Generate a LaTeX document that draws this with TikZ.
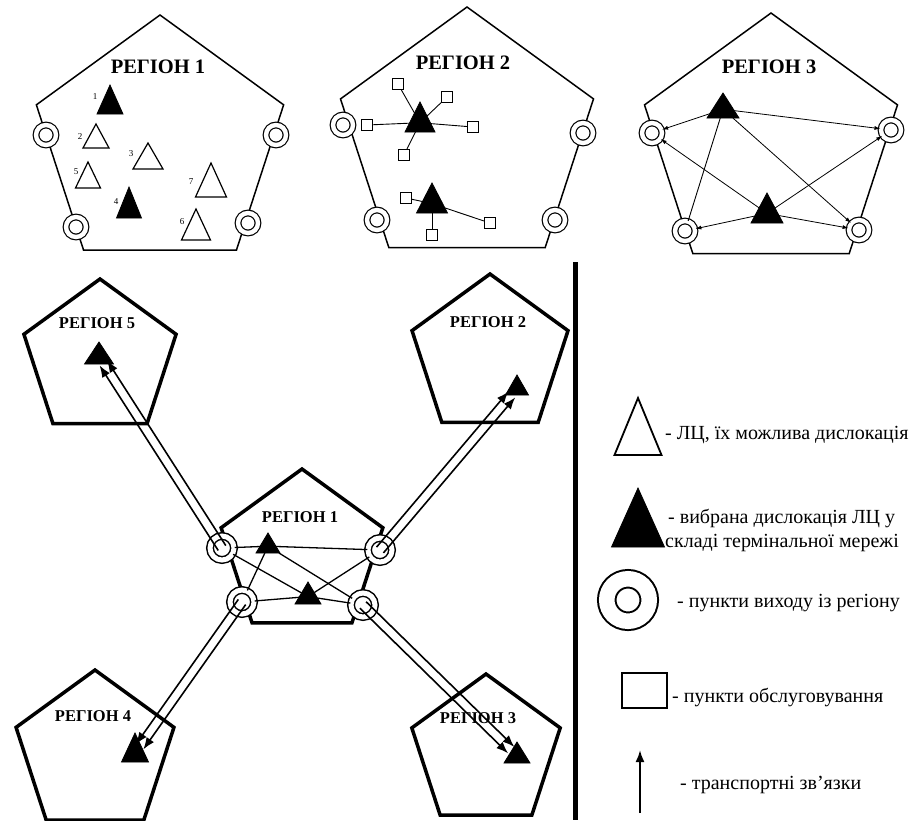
\documentclass[tikz,border=0pt]{standalone}
\usepackage{fontspec}
\setmainfont{Liberation Serif}
\usetikzlibrary{shapes.geometric}
\usetikzlibrary{positioning}
\usetikzlibrary{arrows.meta}
\usetikzlibrary{calc}

\tikzset{
  region/.style={regular polygon, regular polygon sides=5, draw, inner sep=0pt, minimum size=#1},
  topreg/.style={region=#1, line width=1.5pt},
  botreg/.style={region=#1, line width=3.5pt},
  reglabel/.style={font=\bfseries\fontsize{20.5}{22}\selectfont, inner sep=0pt},
  botlabel/.style={font=\bfseries\fontsize{16.5}{18}\selectfont, inner sep=0pt},
  num/.style={font=\fontsize{9}{9}\selectfont, inner sep=0pt},
  tri/.style 2 args={isosceles triangle, isosceles triangle stretches, shape border rotate=90,
    inner sep=0pt, outer sep=0pt, anchor=apex, minimum width=#1, minimum height=#2},
  ltri/.style 2 args={tri={#1}{#2}, draw, fill=white, line width=1.2pt},
  ftri/.style 2 args={tri={#1}{#2}, draw, fill=black, line width=0.8pt},
  exitpt/.style={circle, draw, fill=white, double, double distance=4.4pt, line width=1.2pt,
    minimum size=20pt, inner sep=0pt},
  cexit/.style={exitpt, double distance=5pt, line width=1.5pt, minimum size=24pt},
  svc/.style={rectangle, draw, fill=white, line width=1pt, minimum size=11pt, inner sep=0pt},
  spoke/.style={line width=0.9pt},
  flow/.style={-{Latex[length=6pt,width=4pt]}, line width=0.8pt},
  inner/.style={line width=1.3pt},
  tlink/.style={-{Latex[length=12pt,width=9pt]}, line width=1.6pt, shorten >=8pt},
  legtext/.style={anchor=west, font=\fontsize{20}{24}\selectfont, inner sep=0pt, align=left}
}

\begin{document}
\begin{tikzpicture}[x=1pt, y=-1pt]
\useasboundingbox (0,0) rectangle (918,820);

% --- region 1 (possible sites)
\node[topreg=260pt] (p1) at (160,145) {};
\node[reglabel] (n1) at (158,67) {РЕГІОН 1};
\node[exitpt] (a1) at (46,135) {};
\node[exitpt] (a2) at (276,135) {};
\node[exitpt] (a3) at (76,227) {};
\node[exitpt] (a4) at (248,223) {};
\node[ftri={26pt}{29pt}] (m1) at (110,85) {};
\node[ltri={26pt}{24pt}] (m2) at (96,124) {};
\node[ltri={30pt}{26pt}] (m3) at (148,143) {};
\node[ftri={25pt}{31pt}] (m4) at (129,187) {};
\node[ltri={25pt}{26pt}] (m5) at (88,162) {};
\node[ltri={29pt}{31pt}] (m6) at (196,209) {};
\node[ltri={31pt}{34pt}] (m7) at (211,163) {};
\node[num] (k1) at (95,97) {1};
\node[num] (k2) at (80,137) {2};
\node[num] (k3) at (131,154) {3};
\node[num] (k4) at (116,202) {4};
\node[num] (k5) at (76,172) {5};
\node[num] (k6) at (182,222) {6};
\node[num] (k7) at (191,182) {7};

% --- region 2 (service points)
\node[topreg=266pt] (p2) at (467,140) {};
\node[reglabel] (n2) at (463,63) {РЕГІОН 2};
\node[exitpt] (b1) at (343,125) {};
\node[exitpt] (b2) at (583,133) {};
\node[exitpt] (b3) at (377,220) {};
\node[exitpt] (b4) at (555,220) {};
\node[ftri={30pt}{30pt}] (ta) at (420,102) {};
\node[ftri={31pt}{30pt}] (tb) at (432,183) {};
\node[svc] (sa1) at (398,84) {};
\node[svc] (sa2) at (447,97) {};
\node[svc] (sa3) at (367,125) {};
\node[svc] (sa4) at (473,127) {};
\node[svc] (sa5) at (404,155) {};
\node[svc] (sb1) at (406,198) {};
\node[svc] (sb2) at (490,223) {};
\node[svc] (sb3) at (432,235) {};
\foreach \s in {sa1,sa2,sa3,sa4,sa5} \draw[spoke] (\s) -- (ta);
\foreach \s in {sb1,sb2,sb3} \draw[spoke] (\s) -- (tb);

% --- region 3 (flows to exits)
\node[topreg=266pt] (p3) at (771,146) {};
\node[reglabel] (n3) at (769,67) {РЕГІОН 3};
\node[exitpt] (e1) at (652,133) {};
\node[exitpt] (e2) at (891,130) {};
\node[exitpt] (e3) at (685,231) {};
\node[exitpt] (e4) at (859,230) {};
\node[ftri={32pt}{25pt}] (tc) at (723,93) {};
\node[ftri={32pt}{30pt}] (td) at (767,193) {};
\draw[flow] (tc) -- (e1);
\draw[flow] (tc) -- (e2);
\draw[spoke] (tc) -- (e3);
\draw[flow] (tc) -- (e4);
\draw[flow] (td) -- (e1);
\draw[flow] (td) -- (e2);
\draw[flow] (td) -- (e3);
\draw[flow] (td) -- (e4);

% --- terminal network
\node[botreg=160pt] (q5) at (100,359) {};
\node[botlabel] (l5) at (97,323) {РЕГІОН 5};
\node[ftri={29pt}{22pt}] (t5) at (99,342) {};
\node[botreg=164pt] (q2) at (490,356) {};
\node[botlabel] (l2) at (488,322) {РЕГІОН 2};
\node[ftri={23pt}{20pt}] (t2) at (517,375) {};
\node[botreg=166pt] (q4) at (95,753) {};
\node[botlabel] (l4) at (93,716) {РЕГІОН 4};
\node[ftri={27pt}{29pt}] (t4) at (135,733) {};
\node[botreg=156pt] (q3) at (486,752) {};
\node[botlabel] (l3) at (478,718) {РЕГІОН 3};
\node[ftri={26pt}{21pt}] (t3) at (517,742) {};
\node[botreg=170pt] (q1) at (302,554) {};
\node[botlabel] (l1) at (300,517) {РЕГІОН 1};
\node[ftri={24pt}{20pt}] (c1) at (268,533) {};
\node[ftri={26pt}{22pt}] (c2) at (308,582) {};
\node[cexit] (ul) at (222,548) {};
\node[cexit] (ur) at (380,550) {};
\node[cexit] (ll) at (242,602) {};
\node[cexit] (lr) at (363,605) {};
\draw[inner] (ul) -- (c1);
\draw[inner] (c1) -- (ur);
\draw[inner] (c1) -- (lr);
\draw[inner] (c1) -- (ll);
\draw[inner] (ul) -- (c2);
\draw[inner] (c2) -- (ur);
\draw[inner] (c2) -- (ll);
\draw[inner] (c2) -- (lr);
\foreach \a/\b in {ul/t5, ur/t2, ll/t4, lr/t3} {
  \draw[tlink] ($(\a)!4.5pt!90:(\b)$) -- ($(\b)!4.5pt!-90:(\a)$);
  \draw[tlink] ($(\a)!4.5pt!-90:(\b)$) -- ($(\b)!4.5pt!90:(\a)$);
}

\draw[line width=5pt] (575,262) -- (575,820);

% --- legend
\node[ltri={47pt}{57pt}, line width=1.8pt] (g1) at (638,398) {};
\node[legtext] (h1) at (665,435) {- ЛЦ, їх можлива дислокація};
\node[ftri={53pt}{59pt}] (g2) at (638,488) {};
\node[legtext] (h2) at (665,530) {\hspace{3pt}- вибрана дислокація ЛЦ у\\складі термінальної мережі};
\node[circle, draw, double, double distance=15.5pt, line width=2pt, minimum size=42.5pt, inner sep=0pt] (g3) at (628,600) {};
\node[legtext] (h3) at (677,603) {- пункти виходу із регіону};
\node[rectangle, draw, line width=2pt, minimum width=45pt, minimum height=35pt, inner sep=0pt] (g4) at (644.5,690.5) {};
\node[legtext] (h4) at (672,697) {- пункти обслуговування};
\coordinate (g5a) at (640,813);
\coordinate (g5b) at (640,750);
\draw[-{Latex[length=12pt,width=9pt]}, line width=2pt] (g5a) -- (g5b);
\node[legtext] (h5) at (680,785) {- транспортні зв'язки};
\end{tikzpicture}
\end{document}
